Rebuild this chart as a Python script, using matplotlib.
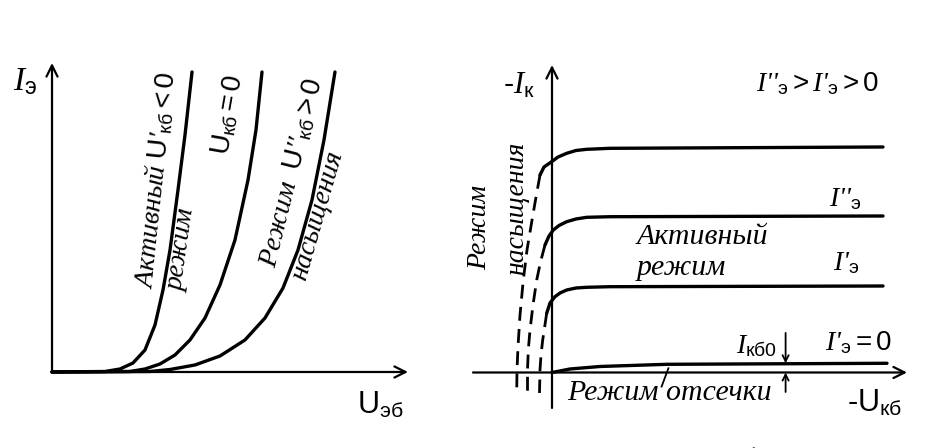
import matplotlib
matplotlib.use("Agg")
import matplotlib.pyplot as plt

plt.rcParams['mathtext.fontset'] = 'custom'
plt.rcParams['mathtext.rm'] = 'Liberation Sans'
plt.rcParams['mathtext.it'] = 'Liberation Serif:italic'
plt.rcParams['mathtext.sf'] = 'Liberation Sans'
plt.rcParams['mathtext.bf'] = 'Liberation Sans:bold'
plt.rcParams['font.family'] = ['Liberation Serif', 'DejaVu Serif']

# ---- input characteristics: I_э vs U_эб for three U_кб ----
u_eb_neg = [0.0, 1.489, 1.910, 2.275, 2.612, 2.893, 3.118, 3.315, 3.539, 3.736, 3.933]
i_e_neg = [0.0, 0.016, 0.097, 0.291, 0.712, 1.521, 2.654, 3.948, 5.890, 7.670, 9.709]

u_eb_zero = [0.0, 2.191, 2.612, 3.034, 3.455, 3.876, 4.298, 4.719, 5.140, 5.506, 5.730, 5.899]
i_e_zero = [0.0, 0.016, 0.097, 0.259, 0.550, 1.036, 1.748, 2.816, 4.272, 6.214, 7.832, 9.709]

u_eb_pos = [0.0, 2.753, 3.315, 4.017, 4.719, 5.421, 5.983, 6.489, 6.910, 7.303, 7.640, 7.949]
i_e_pos = [0.0, 0.016, 0.081, 0.227, 0.518, 1.036, 1.748, 2.718, 3.948, 5.566, 7.508, 9.709]

# ---- output characteristics: -I_к vs -U_кб for several I_э ----
u_kb_top = [-0.30, -0.20, -0.008, 0.15, 0.368, 0.60, 0.868, 1.45, 8.275]
i_k_top = [6.583, 6.85, 7.027, 7.183, 7.307, 7.40, 7.44, 7.473, 7.517]

u_kb_mid = [-0.175, -0.075, 0.033, 0.175, 0.368, 0.60, 0.868, 1.45, 8.275]
i_k_mid = [4.25, 4.55, 4.75, 4.90, 5.027, 5.117, 5.173, 5.193, 5.217]

u_kb_low = [-0.133, -0.05, 0.075, 0.20, 0.368, 0.60, 0.868, 1.45, 8.275]
i_k_low = [1.973, 2.317, 2.527, 2.65, 2.75, 2.817, 2.84, 2.86, 2.883]

u_kb_off = [0.0, 0.45, 1.2, 2.875, 8.375]
i_k_off = [0.0, 0.117, 0.2, 0.273, 0.307]

# saturation-region continuations (dashed)
u_sat_top = [-0.30, -0.4125, -0.5075, -0.625, -0.7175, -0.80, -0.85, -0.875, -0.8825]
i_sat_top = [6.583, 5.75, 5.017, 4.083, 3.083, 1.917, 0.85, 0.083, -0.683]
u_sat_mid = [-0.175, -0.2875, -0.3825, -0.475, -0.55, -0.5925, -0.6125, -0.6125]
i_sat_mid = [4.25, 3.683, 3.083, 2.25, 1.417, 0.75, 0.083, -0.683]
u_sat_low = [-0.133, -0.1875, -0.2325, -0.275, -0.30, -0.3125]
i_sat_low = [1.973, 1.483, 1.083, 0.583, 0.083, -0.683]

i_kb0 = 0.307  # reverse collector current level

W, H = 943, 448
fig = plt.figure(figsize=(W / 100, H / 100), dpi=100)
fig.patch.set_facecolor('white')

axL = fig.add_axes([0, 0, 470 / W, 1])
axR = fig.add_axes([470 / W, 0, 473 / W, 1])
axL.set_xlim(-1.461, 11.742)
axL.set_ylim(-2.460, 12.039)
axR.set_xlim(-2.05, 9.775)
axR.set_ylim(-2.517, 12.417)
for ax in (axL, axR):
    ax.set_axis_off()

CURVE_LW = 2.4
AXIS_LW = 1.6
arrow = dict(arrowstyle='->', lw=AXIS_LW, color='black', mutation_scale=20,
             shrinkA=0, shrinkB=0)

# left panel axes
axL.annotate('', xy=(0, 10.0), xytext=(0, 0), arrowprops=arrow)
axL.annotate('', xy=(10.0, 0), xytext=(0, 0), arrowprops=arrow)
for u, i in ((u_eb_neg, i_e_neg), (u_eb_zero, i_e_zero), (u_eb_pos, i_e_pos)):
    axL.plot(u, i, color='black', lw=CURVE_LW, solid_capstyle='round',
             solid_joinstyle='round')

axL.text(-0.76, 9.39, r'$\mathit{I}_{\mathrm{э}}$', fontsize=24, ha='center', va='center')
axL.text(9.21, -1.07, r'$\mathrm{U}_{\mathrm{эб}}$', fontsize=22, ha='center', va='center')

rot_kw = dict(ha='center', va='center', rotation_mode='anchor', style='italic')
axL.text(2.89, 6.21, r"Активный $\mathrm{U}$'$_{\mathrm{кб}}\mathrm{<0}$", fontsize=20,
         rotation=84, **rot_kw)
axL.text(3.64, 3.95, 'режим', fontsize=20, rotation=82, **rot_kw)
axL.text(4.93, 8.32, r'$\mathrm{U}_{\mathrm{кб}}\mathrm{=0}$', fontsize=20,
         rotation=80, **rot_kw)
axL.text(6.73, 6.44, r"Режим  $\mathrm{U}$''$_{\mathrm{кб}}\mathrm{>0}$", fontsize=20,
         rotation=76, **rot_kw)
axL.text(7.47, 5.08, 'насыщения', fontsize=20, rotation=74, **rot_kw)

# right panel axes
axR.annotate('', xy=(0, 10.25), xytext=(0, -1.183), arrowprops=arrow)
axR.annotate('', xy=(8.875, 0), xytext=(-1.975, 0), arrowprops=arrow)

for u, i in ((u_kb_top, i_k_top), (u_kb_mid, i_k_mid), (u_kb_low, i_k_low),
             (u_kb_off, i_k_off)):
    axR.plot(u, i, color='black', lw=CURVE_LW, solid_capstyle='round',
             solid_joinstyle='round')
for u, i in ((u_sat_top, i_sat_top), (u_sat_mid, i_sat_mid), (u_sat_low, i_sat_low)):
    axR.plot(u, i, color='black', lw=2.0, linestyle=(0, (5, 3)))

# I_кб0 marker arrows
small = dict(arrowstyle='->', lw=1.3, color='black', mutation_scale=11,
             shrinkA=0, shrinkB=0)
axR.annotate('', xy=(5.84, i_kb0), xytext=(5.84, 1.32), arrowprops=small)
axR.annotate('', xy=(5.84, 0.0), xytext=(5.84, -0.65), arrowprops=small)
# leader from the cut-off label
axR.plot([2.74, 2.91], [-0.47, 0.14], color='black', lw=1.3)

sans = ['Liberation Sans', 'DejaVu Sans']
axR.text(-0.825, 9.58, r'-$\mathit{I}_{\mathrm{к}}$', fontsize=22, family=sans,
         ha='center', va='center')
axR.text(6.625, 9.62, r"I''$_{\mathrm{э}}\mathrm{>}$I'$_{\mathrm{э}}\mathrm{>0}$",
         fontsize=20, style='italic', ha='center', va='center')
axR.text(7.325, 5.78, r"I''$_{\mathrm{э}}$", fontsize=20, style='italic',
         ha='center', va='center')
axR.text(7.35, 3.65, r"I'$_{\mathrm{э}}$", fontsize=20, style='italic',
         ha='center', va='center')
axR.text(7.65, 0.98, r"I'$_{\mathrm{э}}\mathrm{=0}$", fontsize=20, style='italic',
         ha='center', va='center')
axR.text(5.125, 0.88, r"$\mathit{I}_{\mathrm{кб0}}$", fontsize=20, ha='center', va='center')
axR.text(3.75, 4.52, 'Активный', fontsize=21.5, style='italic', ha='center', va='center')
axR.text(2.125, 3.48, 'режим', fontsize=21.5, style='italic', ha='left', va='center')
axR.text(2.925, -0.68, 'Режим отсечки', fontsize=21.5, style='italic',
         ha='center', va='center')
axR.text(8.075, -1.02, r'-$\mathrm{U}_{\mathrm{кб}}$', fontsize=22, family=sans,
         ha='center', va='center')
axR.text(-1.8, 4.82, 'Режим', fontsize=20, style='italic', rotation=90,
         ha='center', va='center')
axR.text(-0.875, 5.48, 'насыщения', fontsize=20, style='italic', rotation=90,
         ha='center', va='center')
axR.text(4.875, -2.95, 'б', fontsize=20, style='italic', ha='center', va='center',
         clip_on=False)

fig.savefig('out.png', dpi=100, facecolor='white')
